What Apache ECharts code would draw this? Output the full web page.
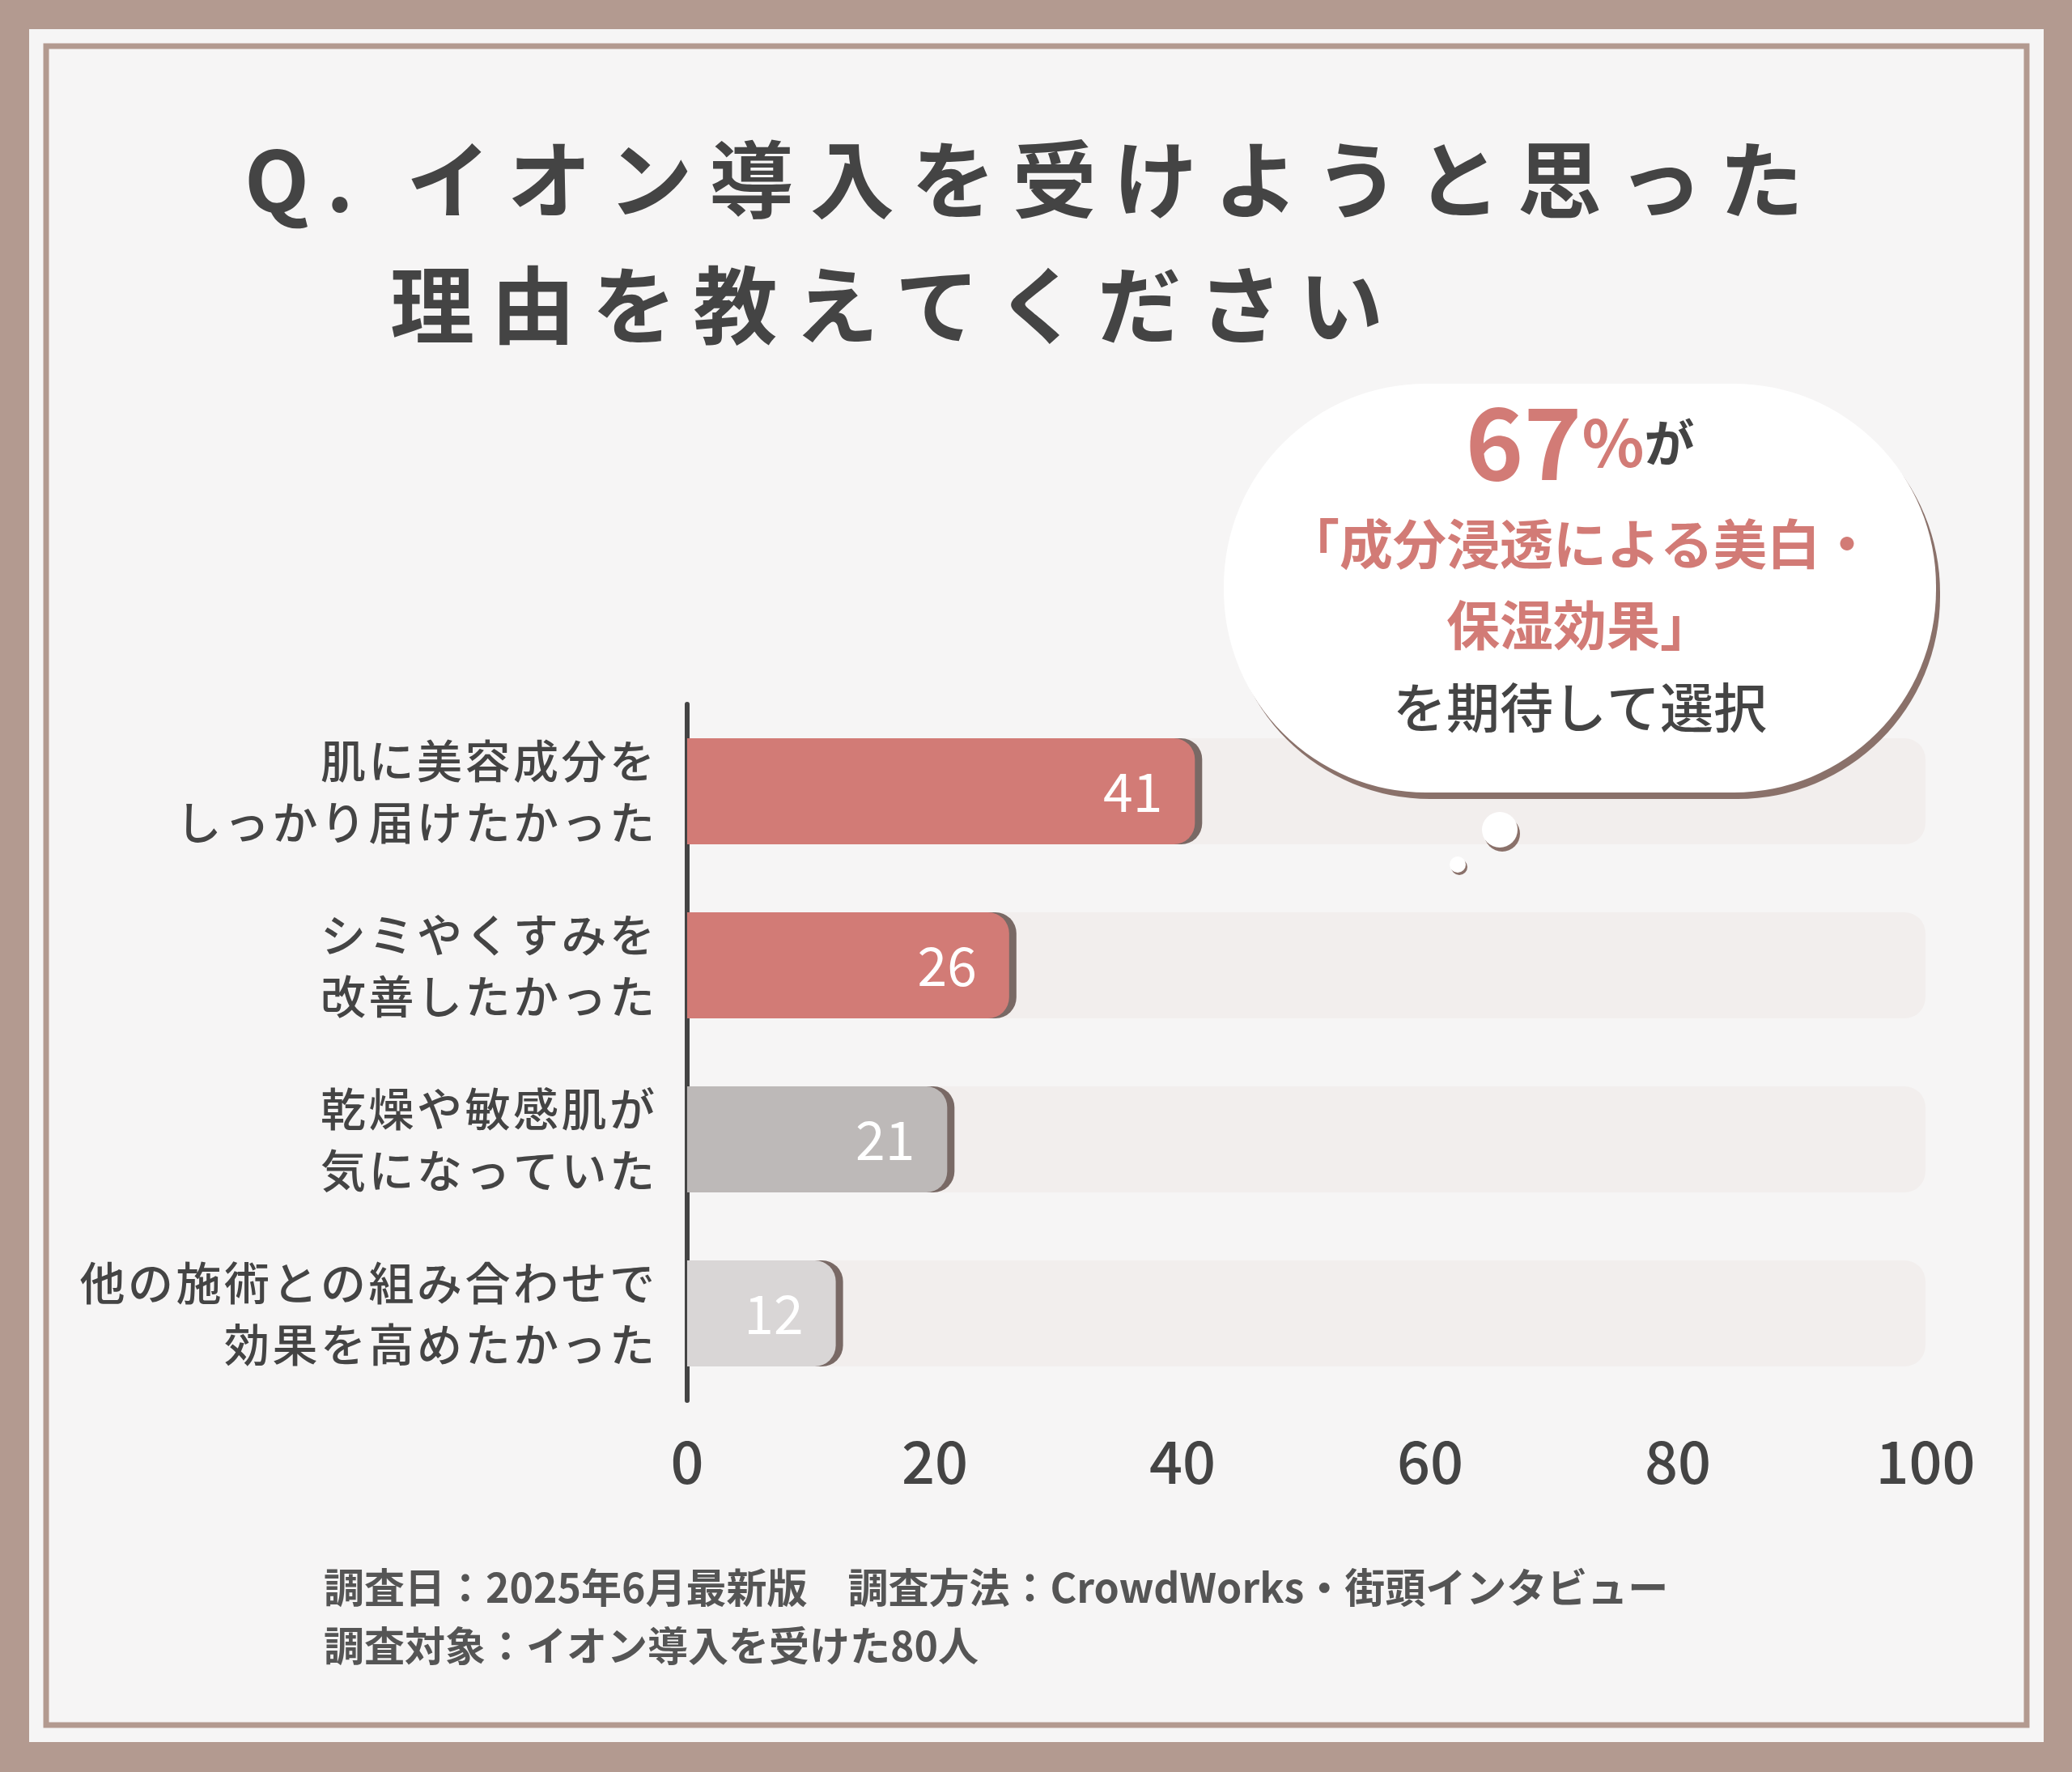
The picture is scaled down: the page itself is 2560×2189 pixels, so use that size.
<!DOCTYPE html>
<html><head><meta charset="utf-8">
<script src="https://cdn.jsdelivr.net/npm/echarts@6/dist/echarts.min.js"></script>
<style>html,body{margin:0;padding:0;background:#b39a90}#c{width:2560px;height:2189px}</style>
</head><body><div id="c"></div>
<script>
const categories = ['肌に美容成分を\nしっかり届けたかった','シミやくすみを\n改善したかった','乾燥や敏感肌が\n気になっていた','他の施術との組み合わせで\n効果を高めたかった'];
const values = [41, 26, 21, 12];
const barColors = ['#d27b76','#d27b76','#bdb9b8','#d9d6d6'];
const xTicks = [0,20,40,60,80,100];
const sp = s => s.split('').join('\u2009');
const sp2 = s => s.split('').join('\u200A');
const F = '"Noto Sans CJK JP", sans-serif';
const chart = echarts.init(document.getElementById('c'));
chart.setOption({
  backgroundColor: '#b39a90',
  grid: {left: 849, right: 181, top: 870, bottom: 459},
  xAxis: {type:'value', min:0, max:100, interval:20, splitLine:{show:false}, axisLine:{show:false}, axisTick:{show:false},
    axisLabel:{fontSize:72, color:'#444', fontFamily:F, margin:40, fontWeight:500}},
  yAxis: {type:'category', inverse:true, data:categories, axisTick:{show:false},
    axisLine:{lineStyle:{color:'#444', width:6}},
    axisLabel:{fontSize:56, color:'#444', fontFamily:F, fontWeight:500, lineHeight:76, margin:40, align:'right',
      formatter: v => v.split('\n').map(sp2).join('\n')}},
  graphic: [
    {type:'rect', z:-10, shape:{x:36,y:36,width:2489,height:2116}, style:{fill:'#f6f5f5'}},
    {type:'rect', z:-9, shape:{x:57,y:57,width:2447,height:2074}, style:{fill:'none', stroke:'#b39a90', lineWidth:7}},
    {type:'text', left:302, top:170, style:{text:sp('Q. イオン導入を受けようと思った'), fontSize:104, fontWeight:'bold', fill:'#444', fontFamily:F}},
    {type:'text', left:482, top:325, style:{text:sp('理由を教えてください'), fontSize:104, fontWeight:'bold', fill:'#444', fontFamily:F}},
    {type:'rect', z:10, shape:{x:1512,y:474,width:880,height:505,r:250}, style:{fill:'#ffffff', shadowColor:'#8a716a', shadowOffsetX:5, shadowOffsetY:8, shadowBlur:0}},
    {type:'circle', z:10, shape:{cx:1853,cy:1025,r:22}, style:{fill:'#fff', shadowColor:'#8a716a', shadowOffsetX:3, shadowOffsetY:5}},
    {type:'circle', z:10, shape:{cx:1801,cy:1068,r:10}, style:{fill:'#fff', shadowColor:'#8a716a', shadowOffsetX:2, shadowOffsetY:3}},
    {type:'text', z:11, x:1952, y:547, style:{rich:{a:{fontSize:122,fontWeight:'bold',fill:'#d27b76',fontFamily:F},b:{fontSize:80,fontWeight:'bold',fill:'#d27b76',fontFamily:F},c:{fontSize:62,fontWeight:'bold',fill:'#444',fontFamily:F}}, text:'{a|67}{b|%}{c|が}', align:'center', verticalAlign:'middle'}},
    {type:'text', z:11, x:1952, y:672, style:{text:'「成分浸透による美白・', fontSize:66, fontWeight:'bold', fill:'#d27b76', fontFamily:F, align:'center', verticalAlign:'middle'}},
    {type:'text', z:11, x:1952, y:772, style:{text:'保湿効果」', fontSize:66, fontWeight:'bold', fill:'#d27b76', fontFamily:F, align:'center', verticalAlign:'middle'}},
    {type:'text', z:11, x:1952, y:874, style:{text:'を期待して選択', fontSize:66, fontWeight:500, fill:'#444', fontFamily:F, align:'center', verticalAlign:'middle'}},
    {type:'text', left:400, top:1925, style:{text:'調査日：2025年6月最新版　調査方法：CrowdWorks・街頭インタビュー\n調査対象：イオン導入を受けた80人', fontSize:50, lineHeight:72, fontWeight:'bold', fill:'#555', fontFamily:F}}
  ],
  series: [{
    type:'bar', barWidth:131,
    data: values.map((v,i)=>({value:v, itemStyle:{color:barColors[i]}})),
    itemStyle:{borderRadius:[0,26,26,0], shadowColor:'rgba(80,60,55,0.75)', shadowOffsetX:9, shadowBlur:0},
    showBackground:true, backgroundStyle:{color:'#f2eeed', borderRadius:[0,26,26,0]},
    label:{show:true, position:'insideRight', distance:40, fontSize:66, color:'#fff', fontFamily:F}
  }]
});
</script></body></html>
